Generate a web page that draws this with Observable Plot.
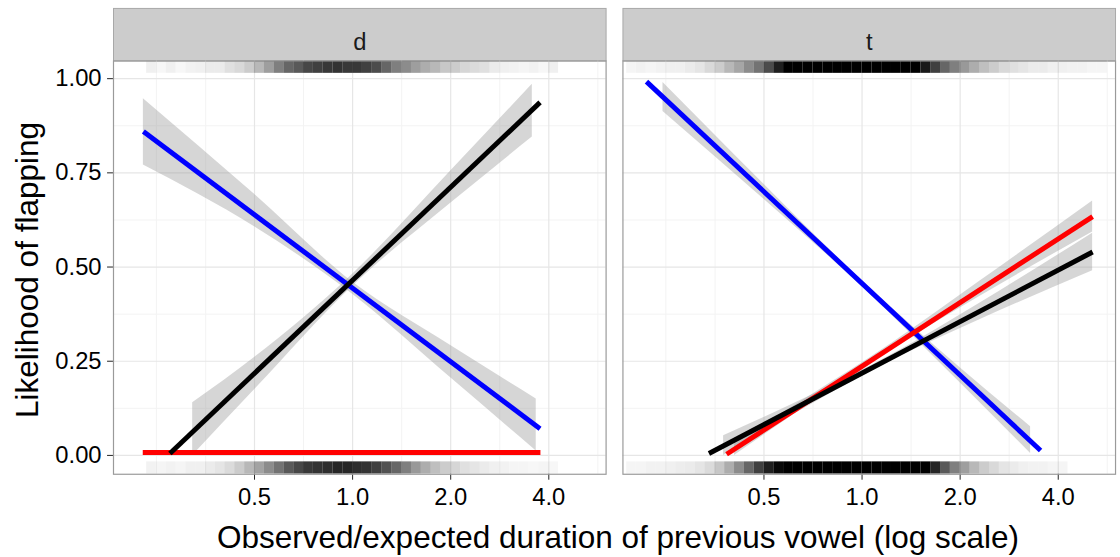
<!DOCTYPE html>
<html>
<head>
<meta charset="utf-8">
<script src="https://cdn.jsdelivr.net/npm/d3@7"></script>
<script src="https://cdn.jsdelivr.net/npm/@observablehq/plot@0.6"></script>
<style>
  html, body { margin: 0; padding: 0; background: #fff; overflow: hidden; }
  #wrap { position: relative; width: 1120px; height: 557px; overflow: hidden; font-family: "Liberation Sans", Arial, Helvetica, sans-serif; color: #000; }
  #chart { position: absolute; left: 0; top: 0; }
  #chart svg text { font-size: 24px !important; }
  .xt { position: absolute; left: 618px; top: 537px; transform: translate(-50%, -50%); font-size: 31.5px; white-space: nowrap; line-height: 34px; }
  .yt { position: absolute; left: 27px; top: 269.5px; transform: translate(-50%, -50%) rotate(-90deg); font-size: 31.5px; white-space: nowrap; line-height: 34px; }
</style>
</head>
<body>
<div id="wrap">
  <div id="chart"></div>
  <div class="xt">Observed/expected duration of previous vowel (log scale)</div>
  <div class="yt">Likelihood of flapping</div>
</div>
<script>
// ---- facets & ticks ----
const facets = ["d", "t"];
const xTicks = [0.5, 1, 2, 4];
const xMinor = [0.25, 0.354, 0.707, 1.414, 2.828, 5.657];
const yTicks = [0, 0.25, 0.5, 0.75, 1];
const yMinor = [0.125, 0.375, 0.625, 0.875];

// ---- fitted lines (start / end of each series) ----
const fitFacet  = ["d", "d", "d", "t", "t", "t"];
const fitSeries = ["blue", "red", "black", "blue", "red", "black"];
const fitX0 = [0.228, 0.227, 0.275, 0.218, 0.384, 0.339];
const fitY0 = [0.860, 0.008, 0.005, 0.992, 0.003, 0.005];
const fitX1 = [3.76, 3.77, 3.76, 3.53, 5.10, 5.10];
const fitY1 = [0.071, 0.008, 0.937, 0.013, 0.634, 0.540];

// ---- confidence bands ----
const bandFacet  = ["d", "d", "t", "t", "t"];
const bandSeries = ["blue", "black", "blue", "black", "red"];
const bandX = [
  [0.228, 0.5, 1, 2, 3.66],
  [0.323, 0.5, 1, 2, 3.56],
  [0.245, 0.5, 1, 2, 3.29],
  [0.376, 0.707, 1.231, 2.297, 5.10],
  [0.406, 0.707, 1.231, 2.297, 5.10]
];
const bandLo = [
  [0.771, 0.607, 0.428, 0.206, 0.012],
  [0.000, 0.174, 0.449, 0.669, 0.845],
  [0.913, 0.680, 0.448, 0.193, 0.005],
  [0.000, 0.138, 0.251, 0.360, 0.490],
  [0.000, 0.143, 0.281, 0.422, 0.593]
];
const bandHi = [
  [0.947, 0.693, 0.460, 0.292, 0.150],
  [0.140, 0.260, 0.481, 0.755, 0.985],
  [0.990, 0.720, 0.464, 0.233, 0.076],
  [0.052, 0.162, 0.267, 0.404, 0.590],
  [0.034, 0.163, 0.297, 0.462, 0.675]
];

// ---- rug density (darkness per 0.1 log2 bin, starting at log2 = -2.5) ----
const rugStart = -2.5, rugStep = 0.1;
const rugTopD = [0,0,0,0,0.06,0.03,0.06,0.03,0.05,0.06,0.08,0.08,0.12,0.15,0.2,0.28,0.38,0.5,0.6,0.65,0.72,0.75,0.78,0.8,0.78,0.78,0.75,0.7,0.6,0.5,0.45,0.38,0.32,0.28,0.22,0.2,0.16,0.14,0.12,0.08,0.06,0.05,0.04,0.05,0.03,0.06,0,0,0,0,0];
const rugBotD = [0,0,0,0,0.05,0.04,0.05,0.04,0.06,0.06,0.08,0.1,0.14,0.2,0.28,0.36,0.45,0.55,0.65,0.72,0.78,0.8,0.82,0.85,0.85,0.82,0.8,0.75,0.68,0.6,0.5,0.4,0.32,0.25,0.2,0.16,0.12,0.1,0.08,0.06,0.05,0.04,0.04,0.03,0.04,0.03,0,0,0,0,0];
const rugTopT = [0,0.04,0.05,0.04,0.05,0.06,0.06,0.08,0.1,0.15,0.2,0.28,0.35,0.45,0.55,0.7,0.88,1,1,1,1,1,1,1,1,1,1,1,1,1,1,0.9,0.75,0.6,0.5,0.4,0.32,0.25,0.2,0.15,0.12,0.1,0.08,0.08,0.06,0.06,0.05,0.05,0.04,0.04,0];
const rugBotT = [0,0.04,0.04,0.05,0.05,0.06,0.07,0.08,0.1,0.14,0.22,0.32,0.45,0.6,0.75,0.88,0.97,1,1,1,1,1,1,1,1,1,1,1,1,1,1,1,0.85,0.65,0.5,0.38,0.28,0.2,0.15,0.1,0.08,0.06,0.05,0.05,0.04,0.04,0,0,0,0,0];

// ---- build tables ----
const lineData = fitFacet.flatMap((f, i) => [
  {facet: f, series: fitSeries[i], x: fitX0[i], y: fitY0[i]},
  {facet: f, series: fitSeries[i], x: fitX1[i], y: fitY1[i]}
]);
const bandData = bandFacet.flatMap((f, i) => bandX[i].map((x, j) => ({
  facet: f, series: bandSeries[i], x, lo: bandLo[i][j], hi: bandHi[i][j]
})));
function rugTable(arr, facet) {
  return arr.map((a, i) => ({
    facet, a,
    x1: 2 ** (rugStart + rugStep * i),
    x2: 2 ** (rugStart + rugStep * (i + 1))
  })).filter(d => d.a > 0);
}
const rugTop = [...rugTable(rugTopD, "d"), ...rugTable(rugTopT, "t")];
const rugBot = [...rugTable(rugBotD, "d"), ...rugTable(rugBotT, "t")];

const panelH = 417, rugLen = 12.5, stripH = 53;

const chart = Plot.plot({
  width: 1130,
  height: 557,
  marginLeft: 113,
  marginRight: 4,
  marginTop: 61,
  marginBottom: 79,
  style: {fontFamily: '"Liberation Sans", Arial, Helvetica, sans-serif', fontSize: "24px", color: "#000", background: "white"},
  fx: {domain: facets, paddingInner: 0.033, paddingOuter: 0, axis: null},
  x: {type: "log", domain: [0.1846, 5.996]},
  y: {domain: [-0.05, 1.047]},
  color: {domain: ["blue", "red", "black"], range: ["#0000ff", "#d40000", "#000000"]},
  opacity: {type: "identity"},
  marks: [
    // strip header
    Plot.frame({fill: "#cccccc", stroke: "#a8a8a8", strokeWidth: 1, insetTop: -stripH, insetBottom: panelH}),
    Plot.text(facets, {fx: d => d, text: d => d, frameAnchor: "top", dy: -28, fill: "#1a1a1a"}),
    // grid
    Plot.gridY(yMinor, {stroke: "#f3f3f3", strokeOpacity: 1, strokeWidth: 1}),
    Plot.gridX(xMinor, {stroke: "#f3f3f3", strokeOpacity: 1, strokeWidth: 1}),
    Plot.gridY(yTicks, {stroke: "#e6e6e6", strokeOpacity: 1, strokeWidth: 1.2}),
    Plot.gridX(xTicks, {stroke: "#e6e6e6", strokeOpacity: 1, strokeWidth: 1.2}),
    // rugs
    Plot.rect(rugTop, {x1: "x1", x2: "x2", fx: "facet", fill: "black", fillOpacity: "a", insetBottom: panelH - rugLen, clip: true}),
    Plot.rect(rugBot, {x1: "x1", x2: "x2", fx: "facet", fill: "black", fillOpacity: "a", insetTop: panelH - rugLen, clip: true}),
    // confidence bands
    Plot.areaY(bandData, {x: "x", y1: "lo", y2: "hi", z: "series", fx: "facet", fill: "#999999", fillOpacity: 0.4, curve: "monotone-x"}),
    // fitted lines
    Plot.line(lineData, {x: "x", y: "y", z: "series", fx: "facet", stroke: "series", strokeWidth: 5, strokeLinecap: "butt"}),
    // axes
    Plot.axisY({ticks: yTicks, tickFormat: d3.format(".2f"), tickSize: 6, tickPadding: 6, label: null, stroke: "#222", fill: "#000"}),
    Plot.axisX({ticks: xTicks, tickFormat: d3.format(".1f"), tickSize: 6, tickPadding: 8, label: null, stroke: "#222", fill: "#000"}),
    // panel border
    Plot.frame({stroke: "#9a9a9a", strokeWidth: 1.2})
  ]
});
document.getElementById("chart").appendChild(chart);
</script>
</body>
</html>
